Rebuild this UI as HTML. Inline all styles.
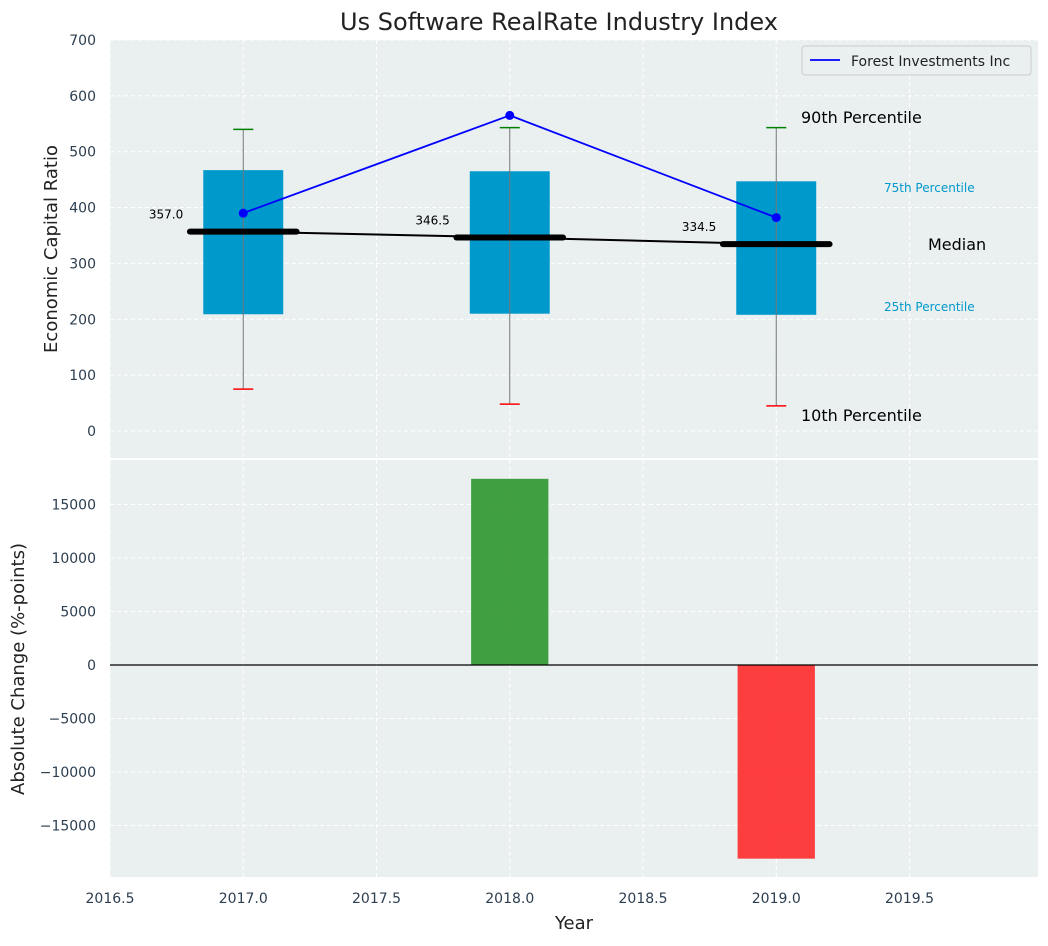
<!DOCTYPE html>
<html><head><meta charset="utf-8"><style>
body{margin:0;background:#fff;font-family:"DejaVu Sans","Liberation Sans",sans-serif;}
svg text{font-family:"DejaVu Sans","Liberation Sans",sans-serif;}
</style></head><body>
<svg id="c" width="1048" height="942" xmlns="http://www.w3.org/2000/svg"></svg>
<script>
const years=[2017,2018,2019];
const q1=[209,210,208];
const q3=[467,465,447];
const p90=[540,543,543];
const p10=[75,48,45];
const medians=[357.0,346.5,334.5];
const medianLabels=["357.0","346.5","334.5"];
const company=[390,565,382];
const changes=[0,17400,-18100];
const xTicks=[2016.5,2017.0,2017.5,2018.0,2018.5,2019.0,2019.5];
const yTopTicks=[0,100,200,300,400,500,600,700];
const yBotTicks=[-15000,-10000,-5000,0,5000,10000,15000];

const NS="http://www.w3.org/2000/svg";
const svg=document.getElementById('c');
function el(t,a,p){const e=document.createElementNS(NS,t);for(const k in a)e.setAttribute(k,a[k]);(p||svg).appendChild(e);return e;}
const L=110,R=1038;
const x=v=>L+(v-2016.5)*266.5;
const yT=v=>431-v*0.5586;
const yB=v=>665-v*53.5/5000;
const tickCol="#2c3e50";

let t=el('text',{x:559,y:30,'text-anchor':'middle','font-size':24,fill:'#222'});t.textContent="Us Software RealRate Industry Index";


let p1=el('rect',{x:L,y:40,width:R-L,height:418,fill:'#eaeff0'});

let p2=el('rect',{x:L,y:460,width:R-L,height:417,fill:'#eaeff0'});


xTicks.forEach(v=>{
  el('line',{x1:x(v),x2:x(v),y1:40,y2:458,stroke:'#fff','stroke-dasharray':'4,3','stroke-width':1});
  el('line',{x1:x(v),x2:x(v),y1:460,y2:877,stroke:'#fff','stroke-dasharray':'4,3','stroke-width':1});
  let tx=el('text',{x:x(v),y:903,'text-anchor':'middle','font-size':14,fill:tickCol});tx.textContent=v.toFixed(1);
  
});
yTopTicks.forEach(v=>{
  el('line',{x1:L,x2:R,y1:yT(v),y2:yT(v),stroke:'#fff','stroke-dasharray':'4,3','stroke-width':1});
  let tx=el('text',{x:96,y:yT(v)+5,'text-anchor':'end','font-size':14,fill:tickCol});tx.textContent=v;
  
});
yBotTicks.forEach(v=>{
  el('line',{x1:L,x2:R,y1:yB(v),y2:yB(v),stroke:'#fff','stroke-dasharray':'4,3','stroke-width':1});
  let tx=el('text',{x:96,y:yB(v)+5,'text-anchor':'end','font-size':14,fill:tickCol});tx.textContent=(v<0?'\u2212'+(-v):v);
  
});

const bw=0.3*266.5, mw=0.4*266.5;
years.forEach((yr,i)=>{
  const cx=x(yr);
  let b=el('rect',{x:cx-bw/2,y:yT(q3[i]),width:bw,height:yT(q1[i])-yT(q3[i]),fill:'#0099cc'});
  
  el('line',{x1:cx,x2:cx,y1:yT(p90[i]),y2:yT(p10[i]),stroke:'#777','stroke-width':1});
  el('line',{x1:cx-10,x2:cx+10,y1:yT(p90[i]),y2:yT(p90[i]),stroke:'green','stroke-width':1.5});
  el('line',{x1:cx-10,x2:cx+10,y1:yT(p10[i]),y2:yT(p10[i]),stroke:'red','stroke-width':1.5});
  let m=el('line',{x1:cx-mw/2,x2:cx+mw/2,y1:yT(medians[i]),y2:yT(medians[i]),stroke:'#000','stroke-width':6,'stroke-linecap':'round'});
  
  let ml=el('text',{x:cx-60,y:yT(medians[i])-13,'text-anchor':'end','font-size':12,fill:'#000'});ml.textContent=medianLabels[i];
  
});
el('polyline',{points:years.map((yr,i)=>x(yr)+','+yT(medians[i])).join(' '),fill:'none',stroke:'#000','stroke-width':2});
let cl=el('polyline',{points:years.map((yr,i)=>x(yr)+','+yT(company[i])).join(' '),fill:'none',stroke:'blue','stroke-width':1.8});

years.forEach((yr,i)=>{let c=el('circle',{cx:x(yr),cy:yT(company[i]),r:4.5,fill:'blue'});
  });

const ann=[[801,123,'90th Percentile',16,'#000'],[884,192,'75th Percentile',12,'#0099cc'],[928,250,'Median',16,'#000'],[884,311,'25th Percentile',12,'#0099cc'],[801,421,'10th Percentile',16,'#000']];
ann.forEach(a=>{let e=el('text',{x:a[0],y:a[1],'font-size':a[3],fill:a[4]});e.textContent=a[2];
  });

let lg=el('g',{});
el('rect',{x:802,y:46,width:229,height:29,rx:3,fill:'#eaeff0',stroke:'#ccc'},lg);
el('line',{x1:810,x2:840,y1:60,y2:60,stroke:'blue','stroke-width':1.8},lg);
let lt=el('text',{x:851,y:66,'font-size':14,fill:'#222'},lg);lt.textContent="Forest Investments Inc";

const barW=0.29*266.5;
years.forEach((yr,i)=>{
  const v=changes[i]; if(v===0)return;
  const y0=yB(0),y1=yB(v);
  let r=el('rect',{x:x(yr)-barW/2,y:Math.min(y0,y1),width:barW,height:Math.abs(y1-y0),fill:v>0?'#2e962e':'#ff2a2a','fill-opacity':0.9});
  
});
el('line',{x1:L,x2:R,y1:yB(0),y2:yB(0),stroke:'#000','stroke-width':1.2});

let a1=el('text',{x:57,y:249,'text-anchor':'middle','font-size':18,fill:'#222',transform:'rotate(-90 57 249)'});a1.textContent="Economic Capital Ratio";

let a2=el('text',{x:24,y:669,'text-anchor':'middle','font-size':18,fill:'#222',transform:'rotate(-90 24 669)'});a2.textContent="Absolute Change (%-points)";

let a3=el('text',{x:574,y:929,'text-anchor':'middle','font-size':18,fill:'#222'});a3.textContent="Year";

</script>
</body></html>
